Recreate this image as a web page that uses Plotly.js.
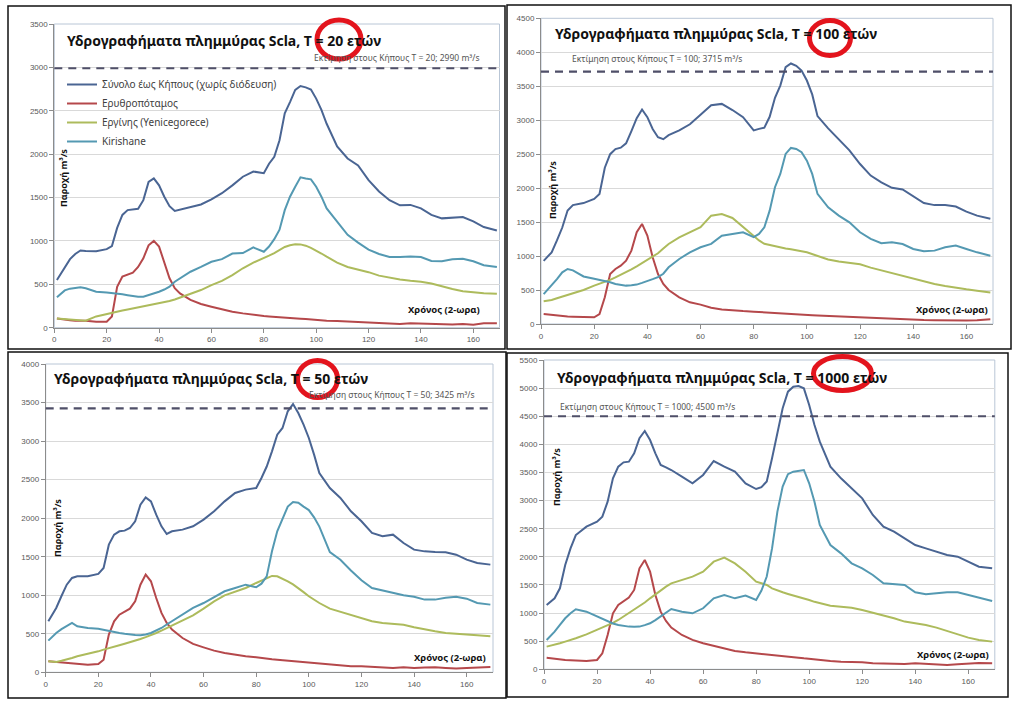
<!DOCTYPE html>
<html><head><meta charset="utf-8">
<script src="https://cdn.plot.ly/plotly-3.0.1.min.js"></script>
<style>html,body{margin:0;padding:0;background:#fff;} #chart{width:1024px;height:713px;}</style>
</head><body><div id="chart"></div>
<script>
// ---------- data ----------
const TIME = [1,4,6,8,10,12,16,20,22,24,26,28,30,32,34,36,38,40,42,44,46,48,52,56,60,64,68,72,76,80,82,84,86,88,90,92,94,96,98,100,102,104,108,112,116,120,124,128,132,136,140,144,148,152,156,160,164,169];

const SERIES_NAMES = ["Σύνολο έως Κήπους (χωρίς διόδευση)", "Ερυθροπόταμος", "Εργίνης (Yenicegorece)", "Kirishane"];
const RETURN_PERIODS = [20, 100, 50, 1000];
const ESTIMATES = [2990, 3715, 3425, 4500];
const Y_MAX = [3500, 4500, 4000, 5500];

// T = 20
const TOTAL_T20 = [550,700,790,850,890,885,880,905,940,1150,1300,1355,1360,1370,1470,1680,1720,1640,1510,1400,1345,1360,1385,1420,1480,1550,1640,1740,1800,1780,1890,1970,2160,2470,2600,2740,2785,2770,2745,2640,2510,2350,2090,1950,1870,1700,1570,1470,1410,1415,1375,1300,1260,1270,1275,1225,1160,1120];
const ERYTHRO_T20 = [107,90,85,80,80,80,70,70,130,470,590,610,635,700,800,950,1000,935,740,570,455,395,320,273,242,211,184,165,146,134,130,127,122,115,112,107,104,100,95,88,85,81,77,70,69,61,54,42,42,50,46,42,42,38,42,35,50,50];
const ERGINI_T20 = [105,100,95,90,85,80,130,160,175,185,198,210,222,234,248,260,270,280,293,307,325,345,388,434,490,540,605,685,750,800,830,860,900,930,950,962,960,945,920,890,855,818,750,700,670,640,600,575,555,540,530,510,475,445,420,405,397,390];
const KIRISHANE_T20 = [350,430,450,460,465,455,415,405,400,395,385,375,365,357,357,375,395,415,440,472,530,570,645,700,760,790,855,860,925,875,935,1020,1130,1355,1510,1625,1733,1720,1710,1625,1510,1375,1220,1070,980,900,850,815,815,820,815,770,765,790,795,765,720,700];

// T = 100
const TOTAL_T100 = [930,1055,1230,1420,1670,1750,1780,1840,1915,2300,2500,2575,2595,2660,2840,3030,3157,3044,2870,2750,2720,2780,2850,2940,3080,3220,3240,3150,3044,2850,2872,2890,3050,3330,3510,3780,3835,3800,3730,3584,3380,3060,2880,2715,2555,2355,2185,2085,2005,1980,1875,1780,1750,1750,1730,1655,1595,1550];
const ERYTHRO_T100 = [147,133,125,118,112,108,98,98,147,393,736,810,859,933,1080,1350,1473,1301,982,736,589,501,393,319,285,240,215,200,190,182,178,175,172,168,163,158,152,148,142,135,130,125,118,110,100,92,85,75,70,65,60,58,55,50,45,50,55,70];
const ERGINI_T100 = [334,353,378,403,428,452,501,565,590,614,650,687,724,761,805,849,896,943,992,1041,1110,1178,1276,1350,1424,1595,1620,1561,1424,1290,1230,1180,1160,1140,1125,1110,1100,1090,1070,1055,1030,1000,950,920,905,880,830,790,750,700,670,630,590,560,530,510,490,465];
const KIRISHANE_T100 = [440,565,660,760,810,790,700,665,650,640,615,590,578,565,570,580,605,638,660,690,740,835,957,1055,1130,1180,1300,1325,1350,1280,1325,1424,1669,2013,2209,2504,2592,2577,2528,2405,2209,1915,1718,1595,1497,1350,1252,1188,1203,1178,1105,1070,1080,1129,1154,1105,1055,1006];

// T = 50
const TOTAL_T50 = [662,835,990,1137,1224,1246,1246,1276,1354,1656,1786,1829,1838,1872,1959,2175,2270,2218,2045,1894,1795,1829,1851,1894,1981,2089,2218,2326,2370,2391,2521,2670,2867,3083,3170,3386,3480,3364,3213,3040,2824,2586,2391,2262,2089,1959,1808,1765,1786,1678,1591,1569,1560,1556,1526,1462,1418,1397];
const ERYTHRO_T50 = [143,134,128,121,115,108,99,108,164,489,662,748,783,826,921,1137,1267,1181,964,770,640,554,445,368,324,281,251,229,208,195,185,173,168,164,158,151,142,134,128,121,115,108,99,91,78,78,69,65,56,65,56,61,65,56,48,56,65,69];
const ERGINI_T50 = [143,134,150,164,186,208,238,272,294,316,333,350,370,389,410,432,456,480,510,541,573,605,670,739,826,921,999,1051,1094,1159,1190,1224,1250,1245,1215,1180,1140,1094,1040,986,940,899,826,783,748,705,662,640,627,618,584,554,532,510,497,489,480,467];
const KIRISHANE_T50 = [411,510,560,597,640,597,575,566,550,532,520,510,500,489,484,480,490,510,540,575,620,662,748,835,899,973,1051,1094,1137,1103,1150,1245,1570,1830,2000,2150,2210,2200,2150,2105,2010,1890,1560,1460,1320,1195,1094,1060,1025,1000,980,943,943,968,980,955,899,878];

// T = 1000
const TOTAL_T1000 = [1144,1262,1440,1855,2151,2388,2537,2625,2714,2981,3396,3603,3680,3692,3840,4108,4237,4077,3840,3633,3591,3544,3426,3307,3456,3704,3603,3514,3307,3206,3240,3340,3752,4226,4641,4937,5026,5038,4996,4700,4344,4048,3603,3396,3218,3040,2744,2537,2448,2329,2210,2151,2092,2033,2003,1914,1825,1796];
const ERYTHRO_T1000 = [207,184,175,166,160,154,148,166,284,610,996,1144,1203,1274,1411,1796,1944,1736,1322,1025,859,741,610,522,462,415,362,326,302,284,278,273,260,245,235,225,215,207,195,184,175,166,148,136,136,124,107,101,89,95,107,101,89,77,89,101,113,107];
const ERGINI_T1000 = [403,433,462,492,521,551,622,699,737,776,826,877,936,996,1055,1114,1188,1262,1336,1411,1470,1529,1588,1648,1736,1914,1985,1884,1736,1559,1530,1499,1440,1400,1369,1340,1315,1292,1262,1233,1200,1173,1132,1114,1096,1055,1008,966,907,848,818,788,741,682,622,563,522,492];
const KIRISHANE_T1000 = [522,670,790,907,996,1067,1025,937,890,848,815,788,770,759,755,759,785,818,875,937,1010,1073,1025,996,1085,1262,1322,1262,1310,1233,1400,1650,2150,2800,3250,3470,3514,3526,3544,3307,2981,2566,2210,2062,1884,1796,1677,1529,1511,1499,1369,1333,1351,1369,1369,1322,1262,1215];

const PANEL_DATA = [
  [TOTAL_T20, ERYTHRO_T20, ERGINI_T20, KIRISHANE_T20],
  [TOTAL_T100, ERYTHRO_T100, ERGINI_T100, KIRISHANE_T100],
  [TOTAL_T50, ERYTHRO_T50, ERGINI_T50, KIRISHANE_T50],
  [TOTAL_T1000, ERYTHRO_T1000, ERGINI_T1000, KIRISHANE_T1000]
];

// ---------- layout geometry (pixels on the 1024x713 page) ----------
const W = 1024, H = 713;
const px = v => v / W;
const py = v => 1 - v / H;
const GEOM = [
  {plot:[54.3,499.5,24,327.7], frame:[8,505,6,349], title:[65,40], est:[482,57,'right'], ylab:[63,178], xlab:[482,310], ring:[317,361,20,59]},
  {plot:[541,993,18.3,324], frame:[507,1011,5,349], title:[553,33], est:[570,59,'left'], ylab:[553,190], xlab:[990,310], ring:[809.5,850.5,20.5,55.5]},
  {plot:[45.7,493,364,672.3], frame:[8,506,352,698], title:[52,379], est:[477,395,'right'], ylab:[57,528], xlab:[488,657], ring:[297.5,337.5,360.5,397.5]},
  {plot:[544,994.8,360,669.3], frame:[507,1008,353,697], title:[555,377], est:[558,406,'left'], ylab:[556,477], xlab:[991,654], ring:[813.5,871.5,356.5,390.5]}
];
const COLORS = ['#4a6593', '#b5484b', '#adbb5c', '#5499b2'];
const TICK_FONT = {family:'Liberation Sans, Arial, sans-serif', size:8, color:'#595959'};
const TEXT_FAMILY = 'Noto Sans, Open Sans, sans-serif';

const traces = [];
const layout = {
  width: W, height: H,
  margin: {l:0, r:0, t:0, b:0},
  paper_bgcolor: '#ffffff', plot_bgcolor: '#ffffff',
  showlegend: true,
  legend: {x: px(62), y: py(70), xanchor:'left', yanchor:'top', bgcolor:'rgba(0,0,0,0)',
           font:{family:TEXT_FAMILY, size:10, color:'#404040'}, itemwidth:30, tracegroupgap:0, traceorder:'normal'},
  annotations: [], shapes: []
};

GEOM.forEach((g, p) => {
  const sfx = p === 0 ? '' : String(p + 1);
  const xa = 'xaxis' + sfx, ya = 'yaxis' + sfx;
  const xr = 'x' + sfx, yr = 'y' + sfx;
  layout[xa] = {
    domain: [px(g.plot[0]), px(g.plot[1])], anchor: yr, range: [0, 170], dtick: 20, tick0: 0,
    showgrid: false, zeroline: false, showline: true, linecolor: '#8c8c8c', linewidth: 1,
    ticks: 'outside', ticklen: 4, tickcolor: '#8c8c8c', tickfont: TICK_FONT, fixedrange: true
  };
  layout[ya] = {
    domain: [py(g.plot[3]), py(g.plot[2])], anchor: xr, range: [0, Y_MAX[p]], dtick: 500, tick0: 0,
    showgrid: true, gridcolor: '#d9d9d9', gridwidth: 1, zeroline: false,
    showline: true, linecolor: '#8c8c8c', linewidth: 1,
    ticks: 'outside', ticklen: 4, tickcolor: '#8c8c8c', tickfont: TICK_FONT, fixedrange: true
  };
  PANEL_DATA[p].forEach((vals, s) => {
    traces.push({
      type: 'scatter', mode: 'lines', x: TIME, y: vals, xaxis: xr, yaxis: yr,
      name: SERIES_NAMES[s], legendgroup: 's' + s, showlegend: p === 0,
      line: {color: COLORS[s], width: 2}, hoverinfo: 'skip'
    });
  });
  // plot-area border
  layout.shapes.push({type:'rect', xref: xr + ' domain', yref: yr + ' domain', x0:0, x1:1, y0:0, y1:1,
    line:{color:'#b9c6d6', width:1}, layer:'below'});
  // estimate dashed line
  layout.shapes.push({type:'line', xref: xr + ' domain', yref: yr, x0:0, x1:1, y0:ESTIMATES[p], y1:ESTIMATES[p],
    line:{color:'#4f4f68', width:2.2, dash:'8px,6px'}, layer:'above'});
  // panel frame
  layout.shapes.push({type:'rect', xref:'paper', yref:'paper', x0:px(g.frame[0]), x1:px(g.frame[1]), y0:py(g.frame[3]), y1:py(g.frame[2]),
    line:{color:'#111111', width:1.5}, layer:'above'});
  // red highlight ring
  layout.shapes.push({type:'circle', xref:'paper', yref:'paper', x0:px(g.ring[0]), x1:px(g.ring[1]), y0:py(g.ring[3]), y1:py(g.ring[2]),
    line:{color:'#e3141d', width:5}, layer:'above'});

  layout.annotations.push({xref:'paper', yref:'paper', x:px(g.title[0]), y:py(g.title[1]), xanchor:'left', yanchor:'middle', showarrow:false,
    text:'Υδρογραφήματα πλημμύρας Scla, T = ' + RETURN_PERIODS[p] + ' ετών',
    font:{family:TEXT_FAMILY, size:14, color:'#111111', weight:'bold'}});
  layout.annotations.push({xref:'paper', yref:'paper', x:px(g.est[0]), y:py(g.est[1]), xanchor:g.est[2], yanchor:'middle', showarrow:false,
    text:'Εκτίμηση στους Κήπους T = ' + RETURN_PERIODS[p] + '; ' + ESTIMATES[p] + ' m³/s',
    font:{family:TEXT_FAMILY, size:8.5, color:'#555555'}});
  layout.annotations.push({xref:'paper', yref:'paper', x:px(g.ylab[0]), y:py(g.ylab[1]), xanchor:'center', yanchor:'middle', showarrow:false,
    textangle:-90, text:'Παροχή m³/s', font:{family:TEXT_FAMILY, size:9, color:'#111111', weight:'bold'}});
  layout.annotations.push({xref:'paper', yref:'paper', x:px(g.xlab[0]), y:py(g.xlab[1]), xanchor:'right', yanchor:'middle', showarrow:false,
    text:'Χρόνος (2-ωρα)', font:{family:TEXT_FAMILY, size:9.5, color:'#111111', weight:'bold'}});
});

Plotly.newPlot('chart', traces, layout, {staticPlot:true, displayModeBar:false});
</script>
</body></html>
